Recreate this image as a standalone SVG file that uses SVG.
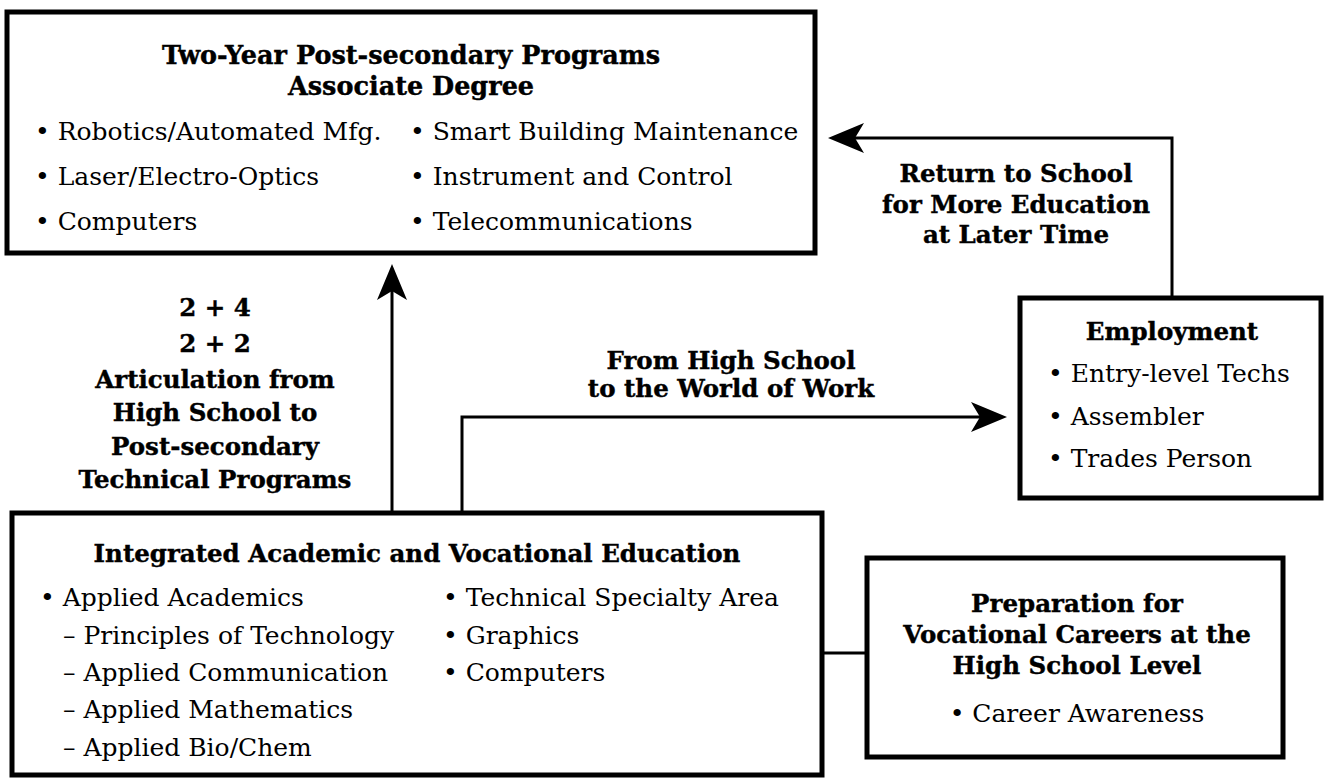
<svg xmlns="http://www.w3.org/2000/svg" width="1324" height="778" viewBox="0 0 1324 778">
<style>
.box{fill:#fff;stroke:#000;stroke-width:5}
.con{fill:none;stroke:#000;stroke-width:3}
.b{font-family:"DejaVu Serif","Liberation Serif",serif;font-weight:bold;font-size:24.5px;fill:#000;stroke:#000;stroke-width:0.4}
.t{font-family:"DejaVu Serif","Liberation Serif",serif;font-size:25px;fill:#000}
.m{text-anchor:middle}
</style>
<defs>
<marker id="ah" markerUnits="userSpaceOnUse" viewBox="-36 -16 37 32" markerWidth="37" markerHeight="32" refX="-27" refY="0" orient="auto" overflow="visible">
<path d="M0,0 L-36,-15 L-27,0 L-36,15 Z" fill="#000"/>
</marker>
</defs>
<rect width="1324" height="778" fill="#fff"/>
<g id="connectors">
<path class="con" d="M392,513 V291" marker-end="url(#ah)"/>
<path class="con" d="M462,513 V417 H980" marker-end="url(#ah)"/>
<path class="con" d="M1172,298 V138 H855" marker-end="url(#ah)"/>
<path class="con" d="M822,653 H867"/>
<text class="b m" x="215" y="316">2 + 4</text>
<text class="b m" x="215" y="352">2 + 2</text>
<text class="b m" x="215" y="388">Articulation from</text>
<text class="b m" x="215" y="421">High School to</text>
<text class="b m" x="215" y="455">Post-secondary</text>
<text class="b m" x="215" y="488">Technical Programs</text>
<text class="b m" x="731" y="369">From High School</text>
<text class="b m" x="731" y="397">to the World of Work</text>
<text class="b m" x="1016" y="182">Return to School</text>
<text class="b m" x="1016" y="213">for More Education</text>
<text class="b m" x="1016" y="243">at Later Time</text>
</g>
<g id="two-year">
<rect class="box" x="7" y="12" width="808" height="241"/>
<text class="b m" x="411" y="64" style="font-size:25.5px">Two-Year Post-secondary Programs</text>
<text class="b m" x="411" y="95" style="font-size:25.5px">Associate Degree</text>
<text class="t" x="35" y="140">• Robotics/Automated Mfg.</text>
<text class="t" x="35" y="185">• Laser/Electro-Optics</text>
<text class="t" x="35" y="230">• Computers</text>
<text class="t" x="410" y="140">• Smart Building Maintenance</text>
<text class="t" x="410" y="185">• Instrument and Control</text>
<text class="t" x="410" y="230">• Telecommunications</text>
</g>
<g id="employment">
<rect class="box" x="1020" y="298" width="301" height="200"/>
<text class="b m" x="1172" y="340">Employment</text>
<text class="t" x="1048" y="382">• Entry-level Techs</text>
<text class="t" x="1048" y="425">• Assembler</text>
<text class="t" x="1048" y="467">• Trades Person</text>
</g>
<g id="integrated">
<rect class="box" x="12" y="513" width="810" height="262"/>
<text class="b m" x="417" y="562">Integrated Academic and Vocational Education</text>
<text class="t" x="40" y="606">• Applied Academics</text>
<text class="t" x="63" y="644">– Principles of Technology</text>
<text class="t" x="63" y="681">– Applied Communication</text>
<text class="t" x="63" y="718">– Applied Mathematics</text>
<text class="t" x="63" y="756">– Applied Bio/Chem</text>
<text class="t" x="443" y="606">• Technical Specialty Area</text>
<text class="t" x="443" y="644">• Graphics</text>
<text class="t" x="443" y="681">• Computers</text>
</g>
<g id="preparation">
<rect class="box" x="867" y="558" width="416" height="199"/>
<text class="b m" x="1077" y="612">Preparation for</text>
<text class="b m" x="1077" y="643">Vocational Careers at the</text>
<text class="b m" x="1077" y="674">High School Level</text>
<text class="t m" x="1077" y="722">• Career Awareness</text>
</g>
</svg>
